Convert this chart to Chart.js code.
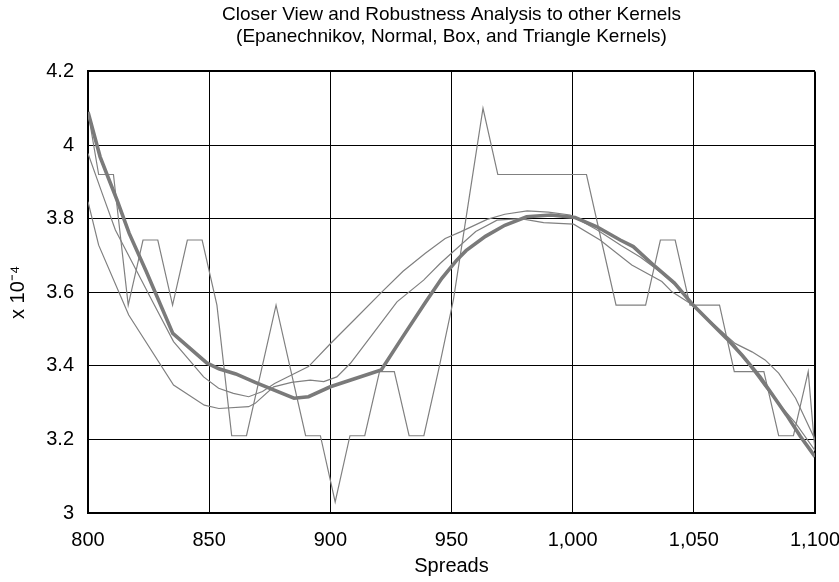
<!DOCTYPE html>
<html>
<head>
<meta charset="utf-8">
<script src="https://cdn.jsdelivr.net/npm/chart.js@4/dist/chart.umd.min.js"></script>
<style>
  html, body { margin: 0; padding: 0; background: #fff; }
  #wrap { width: 839px; height: 582px; }
</style>
</head>
<body>
<div id="wrap"><canvas id="c" width="839" height="582"></canvas></div>
<script>
// ---- data ----
const titleLines = ["Closer View and Robustness Analysis to other Kernels",
                    "(Epanechnikov, Normal, Box, and Triangle Kernels)"];
const xAxisTitle = "Spreads";
const yAxisTitle = "x 10\u207B\u2074";
const xTicks = [800, 850, 900, 950, 1000, 1050, 1100];
const yTicks = [3, 3.2, 3.4, 3.6, 3.8, 4, 4.2];

// Epanechnikov (thick line)
const epanX = [800, 805, 812, 817, 824, 835, 849, 854, 861, 869, 885, 891, 900, 910, 921, 930, 939, 946, 952, 956, 964, 972, 981, 991, 1001, 1010, 1019.6, 1025, 1034, 1042, 1050, 1057, 1063.6, 1070, 1077.3, 1083, 1088.3, 1094, 1100];
const epanY = [4.09, 3.968, 3.85, 3.76, 3.657, 3.488, 3.408, 3.392, 3.378, 3.355, 3.312, 3.316, 3.343, 3.365, 3.389, 3.48, 3.57, 3.638, 3.686, 3.713, 3.752, 3.782, 3.805, 3.81, 3.803, 3.778, 3.742, 3.724, 3.67, 3.625, 3.563, 3.517, 3.474, 3.428, 3.37, 3.316, 3.266, 3.208, 3.153];

// Box kernel (step-like line)
const boxX = [800, 804.4, 810.5, 816.6, 822.7, 828.8, 834.9, 841.0, 847.1, 853.2, 859.3, 865.4, 871.5, 877.6, 883.7, 889.8, 895.9, 902.0, 908.1, 914.2, 920.3, 926.4, 932.5, 938.6, 944.7, 950.8, 956.9, 963.0, 969.1, 975.2, 981.3, 987.4, 993.5, 999.6, 1005.7, 1011.8, 1017.9, 1024.0, 1030.1, 1036.2, 1042.3, 1048.4, 1054.5, 1060.6, 1066.7, 1072.8, 1078.9, 1085.0, 1091.1, 1097.2, 1100];
const boxY = [4.09, 3.92, 3.92, 3.565, 3.742, 3.742, 3.565, 3.742, 3.742, 3.565, 3.21, 3.21, 3.387, 3.565, 3.387, 3.21, 3.21, 3.03, 3.21, 3.21, 3.384, 3.384, 3.21, 3.21, 3.39, 3.58, 3.84, 4.10, 3.92, 3.92, 3.92, 3.92, 3.92, 3.92, 3.92, 3.742, 3.565, 3.565, 3.565, 3.742, 3.742, 3.565, 3.565, 3.565, 3.384, 3.384, 3.384, 3.21, 3.21, 3.384, 3.17];

// Triangle kernel (thin line)
const triX = [800, 806, 811.3, 819.5, 827, 835.3, 842, 847.7, 853.9, 860, 866.3, 872, 877, 884, 891, 900, 910, 921.3, 930, 939.2, 947.4, 953.7, 964.7, 972, 981.2, 990, 999, 1010, 1020, 1028, 1037, 1044, 1050, 1058, 1067, 1073, 1079.4, 1086, 1092, 1100];
const triY = [3.977, 3.866, 3.769, 3.665, 3.57, 3.466, 3.414, 3.37, 3.339, 3.325, 3.316, 3.33, 3.352, 3.375, 3.398, 3.46, 3.526, 3.601, 3.657, 3.706, 3.746, 3.764, 3.798, 3.812, 3.821, 3.818, 3.81, 3.77, 3.727, 3.695, 3.651, 3.61, 3.565, 3.51, 3.455, 3.40, 3.343, 3.29, 3.244, 3.17];

// Normal kernel (thin line)
const normX = [800, 804.4, 816.8, 835.3, 848, 854, 866.3, 869, 876.6, 884, 891.7, 897.3, 902.7, 908.3, 918, 927.5, 938.5, 945.3, 951, 960, 968.8, 978.5, 988, 1000.4, 1011.3, 1024.4, 1036.8, 1041, 1048.4, 1058, 1067, 1074, 1079.4, 1085, 1092, 1100];
const normY = [3.846, 3.728, 3.538, 3.348, 3.293, 3.284, 3.289, 3.298, 3.343, 3.355, 3.361, 3.357, 3.37, 3.407, 3.491, 3.574, 3.633, 3.678, 3.712, 3.765, 3.796, 3.80, 3.789, 3.785, 3.742, 3.674, 3.629, 3.601, 3.57, 3.514, 3.461, 3.438, 3.416, 3.38, 3.312, 3.20];

// ---- chart ----
const toPts = (xs, ys) => xs.map((x, i) => ({ x: x, y: ys[i] }));
const FONT = '"Liberation Sans", Arial, Helvetica, sans-serif';
Chart.defaults.font.family = FONT;
Chart.defaults.color = '#000';

const lineGray = '#808080';

new Chart(document.getElementById('c'), {
  type: 'line',
  data: {
    datasets: [
      { label: 'Epanechnikov', data: toPts(epanX, epanY), borderColor: '#7a7a7a', borderWidth: 3.6 },
      { label: 'Normal', data: toPts(normX, normY), borderColor: lineGray, borderWidth: 1.2 },
      { label: 'Triangle', data: toPts(triX, triY), borderColor: lineGray, borderWidth: 1.2 },
      { label: 'Box', data: toPts(boxX, boxY), borderColor: lineGray, borderWidth: 1.2 }
    ]
  },
  options: {
    responsive: false,
    animation: false,
    elements: {
      point: { radius: 0, hoverRadius: 0 },
      line: { tension: 0, fill: false, borderJoinStyle: 'miter', borderCapStyle: 'butt' }
    },
    layout: { padding: { left: 0, right: 24, top: 0, bottom: 0 } },
    plugins: {
      legend: { display: false },
      tooltip: { enabled: false },
      title: {
        display: true,
        text: titleLines,
        fullSize: false,
        color: '#000',
        font: { size: 19, weight: 'normal', lineHeight: 1.16 },
        padding: { top: 4, bottom: 23.4 }
      }
    },
    scales: {
      x: {
        type: 'linear',
        min: xTicks[0],
        max: xTicks[xTicks.length - 1],
        afterBuildTicks: (s) => { s.ticks = xTicks.map(v => ({ value: v })); },
        afterFit: (s) => { s.height = 69; s.paddingLeft = 0; s.paddingRight = 0; },
        ticks: {
          padding: 15,
          font: { size: 20 },
          color: '#000',
          maxRotation: 0,
          callback: (v) => Number(v).toLocaleString('en-US')
        },
        grid: {
          color: '#000',
          lineWidth: (ctx) => (ctx.index === xTicks.length - 1 ? 2 : 1),
          drawTicks: false
        },
        border: { display: true, color: '#000', width: 2 },
        title: {
          display: true,
          text: xAxisTitle,
          color: '#000',
          font: { size: 20 },
          padding: { top: 0, bottom: 4 }
        }
      },
      y: {
        type: 'linear',
        min: yTicks[0],
        max: yTicks[yTicks.length - 1],
        afterBuildTicks: (s) => { s.ticks = yTicks.map(v => ({ value: v })); },
        afterFit: (s) => { s.width = 88; s.paddingTop = 0; s.paddingBottom = 0; },
        ticks: {
          padding: 14,
          font: { size: 20 },
          color: '#000',
          callback: (v) => String(Number(Number(v).toFixed(1)))
        },
        grid: {
          color: '#000',
          lineWidth: (ctx) => (ctx.index === yTicks.length - 1 ? 2 : 1),
          drawTicks: false
        },
        border: { display: true, color: '#000', width: 2 },
        title: {
          display: true,
          text: yAxisTitle,
          color: '#000',
          font: { size: 20 },
          padding: { top: 6, bottom: 0 }
        }
      }
    }
  }
});
</script>
</body>
</html>
